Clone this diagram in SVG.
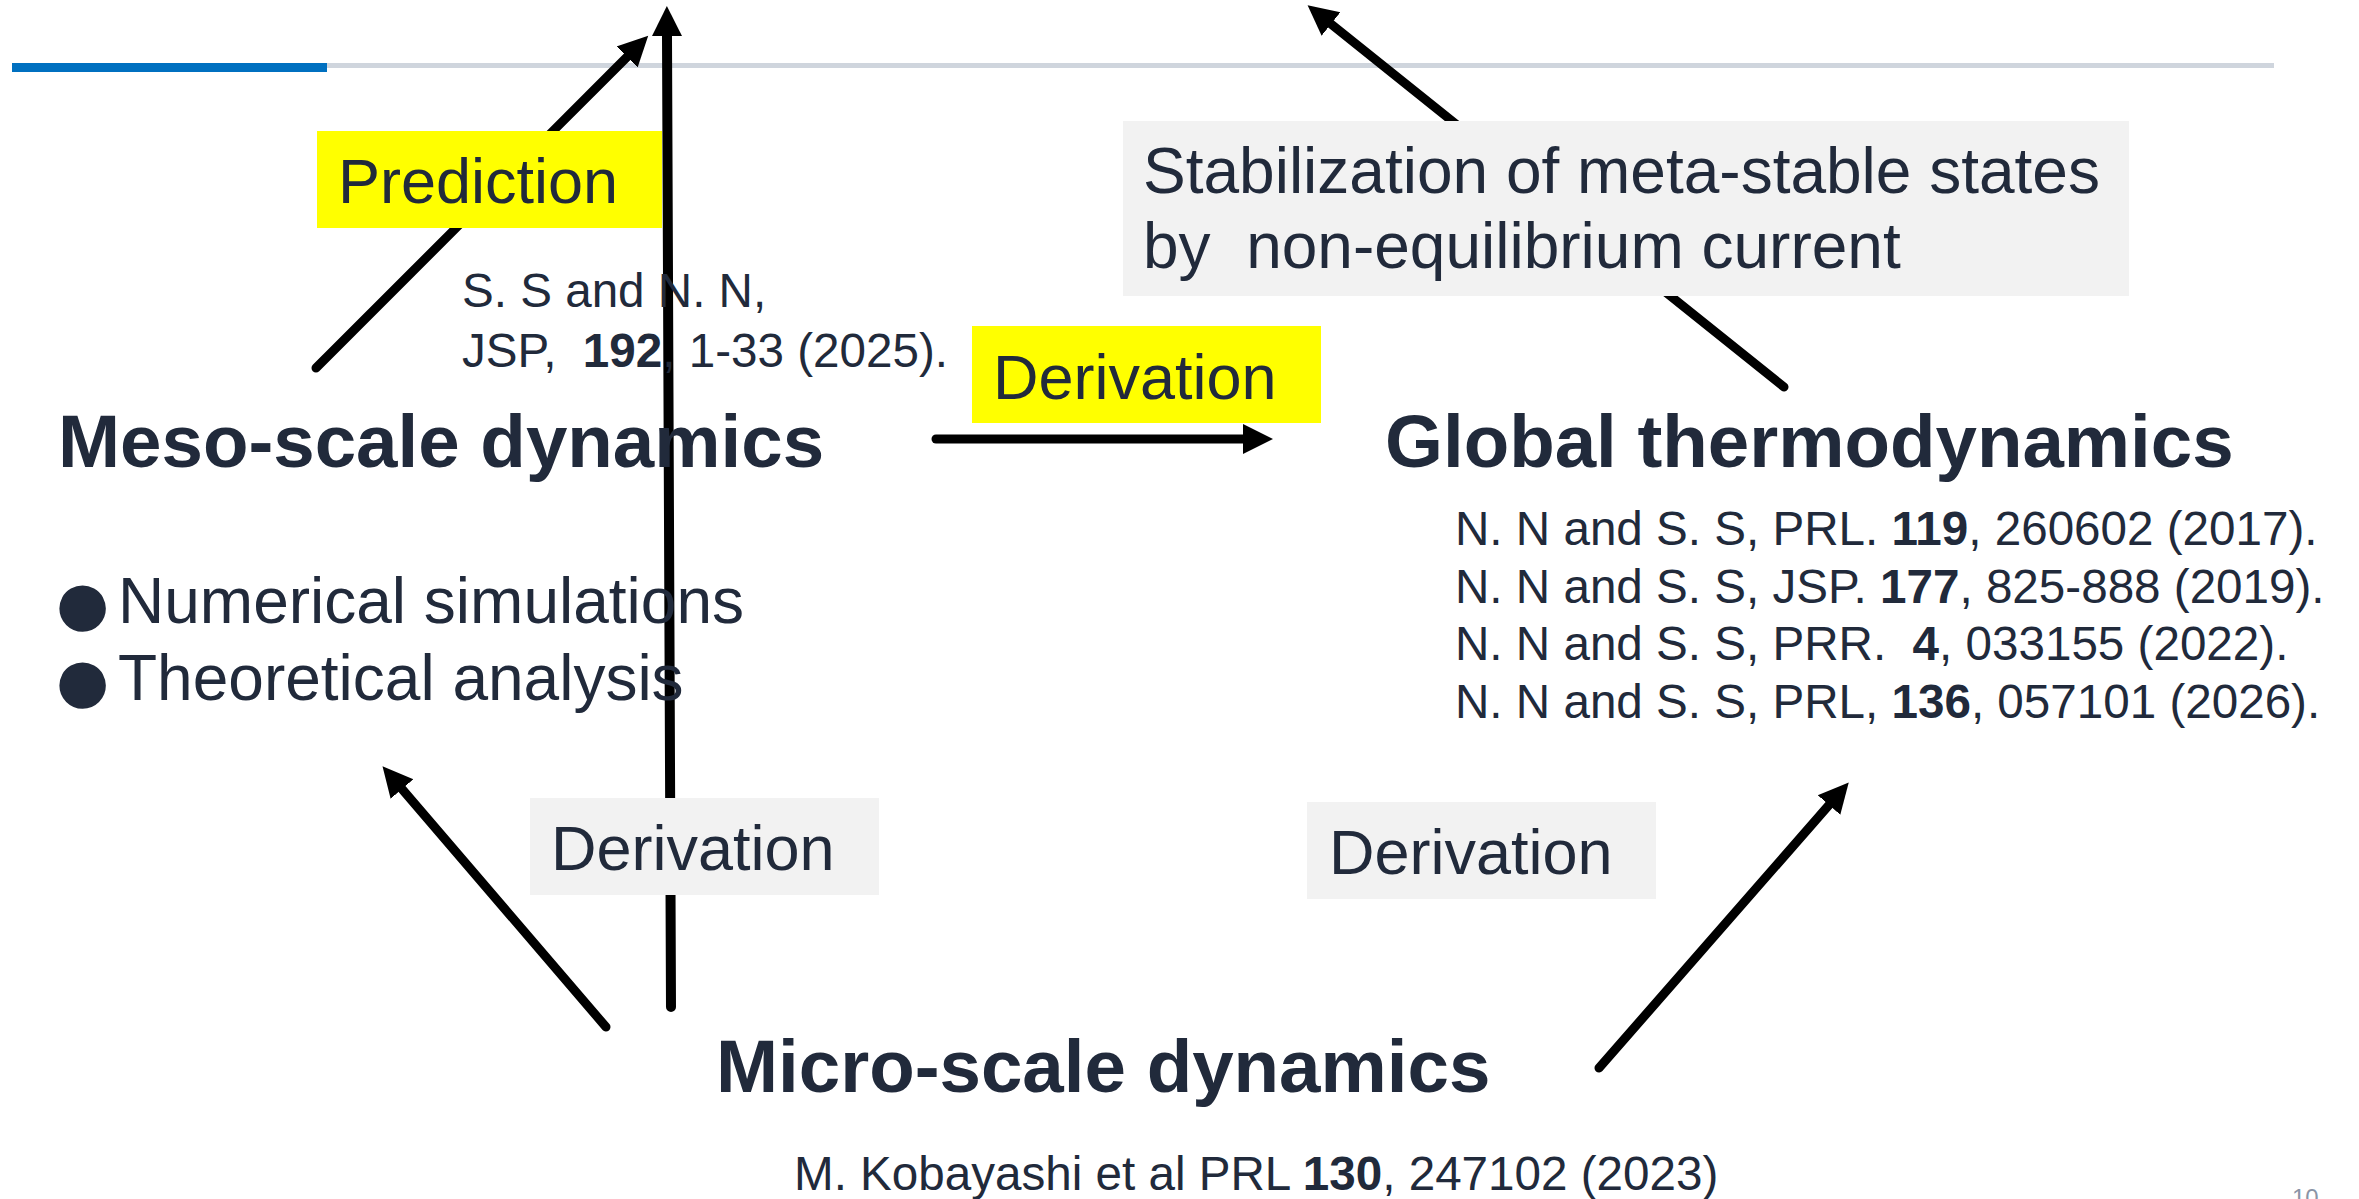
<svg xmlns="http://www.w3.org/2000/svg" width="2359" height="1199" viewBox="0 0 2359 1199">
<style>
.t{font-family:"Liberation Sans",Arial,sans-serif;fill:#212A3B}
.h{font-size:74.5px;font-weight:bold}
.lbl{font-size:63px}
.ref{font-size:47.6px}
.item{font-size:64px}
.bul{font-size:108px}
.c{stroke:#000;stroke-width:9;stroke-linecap:round;fill:none;marker-end:url(#ah)}
.yb{fill:#FFFF00}
.gb{fill:#F2F2F2}
</style>
<defs>
<marker id="ah" markerUnits="userSpaceOnUse" markerWidth="32" markerHeight="32" viewBox="0 -16 32 32" refX="0" refY="0" orient="auto">
<path d="M0,-15 L30,0 L0,15 Z" fill="#000"/>
</marker>
</defs>
<rect width="2359" height="1199" fill="#fff"/>
<g id="header">
<rect x="327" y="63" width="1947" height="5" fill="#CFD5DD"/>
<rect x="12" y="63" width="315" height="9" fill="#0070C0"/>
</g>
<g id="connectors">
<line class="c" x1="316" y1="368" x2="627" y2="57"/>
<line class="c" style="stroke-width:10" x1="671" y1="1007" x2="667" y2="36"/>
<line class="c" x1="936" y1="439" x2="1243" y2="439"/>
<line class="c" x1="1784" y1="387" x2="1331" y2="24"/>
<line class="c" x1="606" y1="1027" x2="402" y2="789"/>
<line class="c" x1="1599" y1="1068" x2="1829" y2="805"/>
</g>
<g id="label-prediction">
<rect class="yb" x="317" y="131" width="345" height="97"/>
<text class="t lbl" x="338" y="203">Prediction</text>
</g>
<g id="label-derivation-top">
<rect class="yb" x="972" y="326" width="349" height="97"/>
<text class="t lbl" x="993" y="399">Derivation</text>
</g>
<g id="label-derivation-left">
<rect class="gb" x="530" y="798" width="349" height="97"/>
<text class="t lbl" x="551" y="870">Derivation</text>
</g>
<g id="label-derivation-right">
<rect class="gb" x="1307" y="802" width="349" height="97"/>
<text class="t lbl" x="1329" y="874">Derivation</text>
</g>
<g id="label-stabilization">
<rect class="gb" x="1123" y="121" width="1006" height="175"/>
<text class="t" style="font-size:64px" x="1143" y="193">Stabilization of meta-stable states</text>
<text class="t" style="font-size:64px;white-space:pre" x="1143" y="268" xml:space="preserve">by  non-equilibrium current</text>
</g>
<g id="ref-meso">
<text class="t ref" x="462" y="307">S. S and N. N,</text>
<text class="t ref" x="462" y="367" xml:space="preserve">JSP,  <tspan font-weight="bold">192</tspan>, 1-33 (2025).</text>
</g>
<g id="node-meso">
<text class="t h" x="58" y="467">Meso-scale dynamics</text>
<text class="t item"><tspan class="bul" x="50" y="639">●</tspan><tspan x="118" y="623">Numerical simulations</tspan><tspan class="bul" x="50" y="716">●</tspan><tspan x="118" y="700">Theoretical analysis</tspan></text>
</g>
<g id="node-global">
<text class="t h" x="1385" y="467">Global thermodynamics</text>
<text class="t ref" x="1455" y="545">N. N and S. S, PRL. <tspan font-weight="bold">119</tspan>, 260602 (2017).</text>
<text class="t ref" x="1455" y="603">N. N and S. S, JSP. <tspan font-weight="bold">177</tspan>, 825-888 (2019).</text>
<text class="t ref" x="1455" y="660" xml:space="preserve">N. N and S. S, PRR.  <tspan font-weight="bold">4</tspan>, 033155 (2022).</text>
<text class="t ref" x="1455" y="718">N. N and S. S, PRL, <tspan font-weight="bold">136</tspan>, 057101 (2026).</text>
</g>
<g id="node-micro">
<text class="t h" x="716" y="1092">Micro-scale dynamics</text>
<text class="t ref" x="794" y="1190">M. Kobayashi et al PRL <tspan font-weight="bold">130</tspan>, 247102 (2023)</text>
</g>
<g id="page-number">
<text x="2292" y="1206" style="font-family:'Liberation Sans',Arial,sans-serif;font-size:24px;fill:#8A94A6">10</text>
</g>
</svg>
